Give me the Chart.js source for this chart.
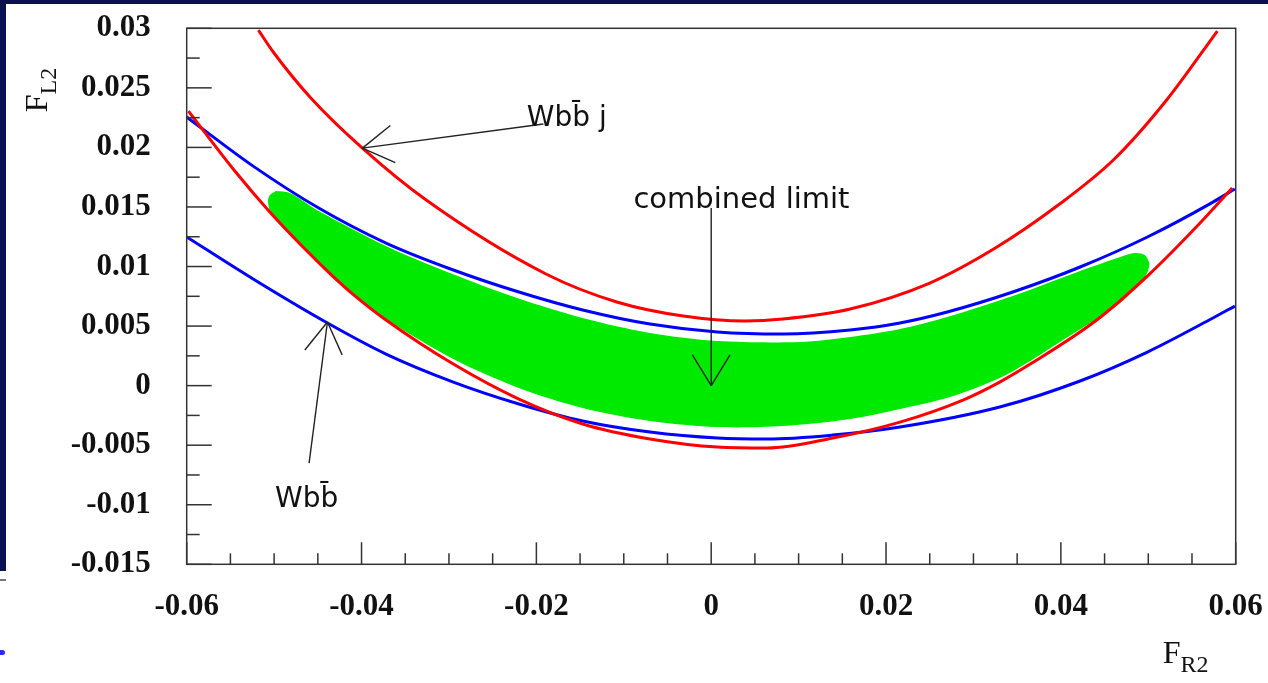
<!DOCTYPE html>
<html>
<head>
<meta charset="utf-8">
<title>F_L2 vs F_R2 limits</title>
<script src="https://cdn.jsdelivr.net/npm/chart.js@4.4.1/dist/chart.umd.min.js"></script>
<style>
  html, body { margin: 0; padding: 0; background: #fff; }
  #wrap { position: relative; width: 1268px; height: 683px; overflow: hidden; background: #fff; }
  #wrap canvas { position: absolute; left: 0; top: 0; }
  .bar { position: absolute; background: #0b1050; }
  #topBar { left: 0; top: 0; width: 1268px; height: 4px; }
  #leftBar { left: 0; top: 0; width: 6px; height: 571px; }
  #leftTick { position: absolute; left: 0; top: 579px; width: 6px; height: 2px; background: #777; }
  #leftBlob { position: absolute; left: 0; top: 650px; width: 5px; height: 5px; background: #2a2aff; border-radius: 0 3px 3px 0; }
</style>
</head>
<body>
<div id="wrap">
  <canvas id="chart" width="1268" height="683"></canvas>
  <div class="bar" id="topBar"></div>
  <div class="bar" id="leftBar"></div>
  <div id="leftTick"></div>
  <div id="leftBlob"></div>
</div>
<script>
// Axis ticks
const xTickValues = [-0.06, -0.04, -0.02, 0, 0.02, 0.04, 0.06];
const xTickLabels = ["-0.06", "-0.04", "-0.02", "0", "0.02", "0.04", "0.06"];
const yTickValues = [-0.015, -0.01, -0.005, 0, 0.005, 0.01, 0.015, 0.02, 0.025, 0.03];
const yTickLabels = ["-0.015", "-0.01", "-0.005", "0", "0.005", "0.01", "0.015", "0.02", "0.025", "0.03"];
const xMinorTicks = [-0.055, -0.05, -0.045, -0.035, -0.03, -0.025, -0.015, -0.01, -0.005,
                     0.005, 0.01, 0.015, 0.025, 0.03, 0.035, 0.045, 0.05, 0.055];
const yMinorTicks = [-0.0125, -0.0075, -0.0025, 0.0025, 0.0075, 0.0125, 0.0175, 0.0225, 0.0275];

// Wbb̄j limit, upper branch (red)
const redOuterX = [-0.0518, -0.0501, -0.0458, -0.0399, -0.0326, -0.0189, -0.0108, -0.0032, 0.0039,
                   0.0082, 0.0159, 0.0250, 0.0325, 0.0397, 0.0460, 0.0521, 0.0579];
const redOuterY = [0.02985, 0.02801, 0.02415, 0.01994, 0.01558, 0.00937, 0.00702, 0.00584, 0.00542,
                   0.00559, 0.00643, 0.00861, 0.01155, 0.01516, 0.01894, 0.02398, 0.02977];

// Wbb̄j limit, lower branch (red)
const redInnerX = [-0.0598, -0.0544, -0.0506, -0.0467, -0.0433, -0.0410, -0.0372, -0.0295, -0.0220,
                   -0.0147, -0.0070, 0.0007, 0.0064, 0.0139, 0.0216, 0.0288, 0.0330, 0.0365,
                   0.0441, 0.0499, 0.0556, 0.0596];
const redInnerY = [0.02305, 0.01793, 0.01466, 0.01164, 0.00920, 0.00769, 0.00551, 0.00181, -0.00113,
                   -0.00322, -0.00448, -0.00516, -0.00524, -0.00440, -0.00306, -0.00121, 0.00030, 0.00181,
                   0.00551, 0.00920, 0.01340, 0.01659];

// Wbb̄ limit, upper branch (blue)
const blueUpperX = [-0.0600, -0.0524, -0.0449, -0.0372, -0.0295, -0.0220, -0.0147, -0.0070, 0.0007,
                    0.0082, 0.0159, 0.0216, 0.0270, 0.0345, 0.0422, 0.0499, 0.0574, 0.0599];
const blueUpperY = [0.02255, 0.01843, 0.01491, 0.01197, 0.00971, 0.00786, 0.00635, 0.00517, 0.00450,
                    0.00433, 0.00467, 0.00526, 0.00618, 0.00786, 0.00996, 0.01248, 0.01541, 0.01651];

// Wbb̄ limit, lower branch (blue)
const blueLowerX = [-0.0600, -0.0524, -0.0441, -0.0372, -0.0295, -0.0220, -0.0147, -0.0070, 0.0007,
                    0.0064, 0.0139, 0.0216, 0.0330, 0.0422, 0.0499, 0.0574, 0.0599];
const blueLowerY = [0.01248, 0.00895, 0.00534, 0.00265, 0.00030, -0.00154, -0.00297, -0.00390, -0.00440,
                    -0.00448, -0.00415, -0.00348, -0.00180, 0.00039, 0.00282, 0.00568, 0.00668];

// combined allowed region (green), outline traced clockwise from the left tip
const combinedX = [-0.0498, -0.0482, -0.0449, -0.0372, -0.0299, -0.0222, -0.0147, -0.0070, 0.0007,
                   0.0102, 0.0159, 0.0216, 0.0270, 0.0345, 0.0422, 0.0468, 0.0485, 0.0496,
                   0.0501, 0.0500, 0.0496, 0.0468, 0.0441, 0.0399, 0.0365, 0.0330, 0.0273,
                   0.0216, 0.0159, 0.0082, 0.0007, -0.0070, -0.0147, -0.0220, -0.0295, -0.0372,
                   -0.0433, -0.0475, -0.0504, -0.0507, -0.0505, -0.0498];
const combinedY = [0.01634, 0.01617, 0.01466, 0.01172, 0.00945, 0.00735, 0.00567, 0.00441, 0.00374,
                   0.00366, 0.00408, 0.00475, 0.00576, 0.00752, 0.00962, 0.01080, 0.01113, 0.01096,
                   0.01029, 0.00970, 0.00912, 0.00693, 0.00559, 0.00366, 0.00207, 0.00064, -0.00096,
                   -0.00196, -0.00280, -0.00339, -0.00348, -0.00297, -0.00188, -0.00020, 0.00223, 0.00559,
                   0.00903, 0.01222, 0.01457, 0.01549, 0.01599, 0.01634];

// Annotations: label text, label anchor, arrow tail -> arrow tip (data units)
const noteTexts = ["Wbb\u0304 j", "combined limit", "Wbb\u0304"];
const noteAt = [[-0.0211, 0.0218], [-0.0089, 0.0149], [-0.0499, -0.0102]];
const arrowFrom = [[-0.0192, 0.02196], [0.0, 0.01491], [-0.0460, -0.0065]];
const arrowTo = [[-0.0399, 0.01994], [0.0, 0.0], [-0.0439, 0.00534]];

const pairs = (xs, ys) => xs.map((x, i) => ({ x: x, y: ys[i] }));

const curve = (label, xs, ys, color) => ({
    label,
    data: pairs(xs, ys),
    showLine: true,
    borderColor: color,
    borderWidth: 3,
    pointRadius: 0,
    cubicInterpolationMode: "monotone",
    fill: false,
    order: 1,
});

// keep the plot frame where the reference has it
const noScalePadding = s => {
    s.paddingTop = 0;
    s.paddingBottom = 0;
    s.paddingLeft = 0;
    s.paddingRight = 0;
};

// frame, inward ticks, axis titles and arrows
const decorPlugin = {
    id: "decor",
    afterDatasetsDraw(chart) {
        const { ctx, chartArea: a, scales } = chart;
        const x = scales.x, y = scales.y;
        const seg = (x1, y1, x2, y2) => {
            ctx.beginPath();
            ctx.moveTo(x1, y1);
            ctx.lineTo(x2, y2);
            ctx.stroke();
        };
        ctx.save();

        // arrows
        ctx.strokeStyle = "#222";
        ctx.lineWidth = 1.4;
        arrowFrom.forEach((from, i) => {
            const x1 = x.getPixelForValue(from[0]), y1 = y.getPixelForValue(from[1]);
            const x2 = x.getPixelForValue(arrowTo[i][0]), y2 = y.getPixelForValue(arrowTo[i][1]);
            seg(x1, y1, x2, y2);
            const ang = Math.atan2(y1 - y2, x1 - x2);
            [-0.55, 0.55].forEach(d => {
                seg(x2, y2, x2 + 36 * Math.cos(ang + d), y2 + 36 * Math.sin(ang + d));
            });
        });

        // annotation text
        ctx.fillStyle = "#111";
        ctx.textAlign = "left";
        ctx.textBaseline = "alphabetic";
        noteTexts.forEach((t, i) => {
            ctx.font = (i === 1 ? "29px" : "28px") + ' "DejaVu Sans"';
            ctx.fillText(t, x.getPixelForValue(noteAt[i][0]), y.getPixelForValue(noteAt[i][1]));
        });

        // frame
        ctx.strokeStyle = "#333";
        ctx.lineWidth = 1.5;
        ctx.strokeRect(a.left, a.top, a.right - a.left, a.bottom - a.top);

        // inward ticks
        yTickValues.forEach(v => { const p = y.getPixelForValue(v); seg(a.left, p, a.left + 25, p); });
        yMinorTicks.forEach(v => { const p = y.getPixelForValue(v); seg(a.left, p, a.left + 13, p); });
        xTickValues.forEach(v => { const p = x.getPixelForValue(v); seg(p, a.bottom, p, a.bottom - 22); });
        xMinorTicks.forEach(v => { const p = x.getPixelForValue(v); seg(p, a.bottom, p, a.bottom - 11); });

        // axis titles
        ctx.fillStyle = "#111";
        ctx.textAlign = "left";
        ctx.font = '32px "Liberation Serif"';
        ctx.fillText("F", a.right - 73, a.bottom + 99);
        const fw = ctx.measureText("F").width;
        ctx.font = '24px "Liberation Serif"';
        ctx.fillText("R2", a.right - 73 + fw, a.bottom + 108);

        ctx.translate(a.left - 140, a.top + 84);
        ctx.rotate(-Math.PI / 2);
        ctx.font = '32px "Liberation Serif"';
        ctx.fillText("F", 0, 0);
        ctx.font = '24px "Liberation Serif"';
        ctx.fillText("L2", fw, 9);
        ctx.restore();
    },
};

const tickFont = { family: "Liberation Serif", size: 31, weight: "bold" };

new Chart(document.getElementById("chart"), {
    type: "scatter",
    data: {
        datasets: [
            curve("Wbb\u0304j upper", redOuterX, redOuterY, "#ff0000"),
            curve("Wbb\u0304j lower", redInnerX, redInnerY, "#ff0000"),
            curve("Wbb\u0304 upper", blueUpperX, blueUpperY, "#0000ff"),
            curve("Wbb\u0304 lower", blueLowerX, blueLowerY, "#0000ff"),
            {
                label: "combined limit",
                data: pairs(combinedX, combinedY),
                showLine: true,
                borderWidth: 0,
                borderColor: "rgba(0,0,0,0)",
                backgroundColor: "#00ea00",
                pointRadius: 0,
                tension: 0.3,
                fill: "shape",
                order: 10,
            },
        ],
    },
    options: {
        responsive: false,
        animation: false,
        layout: { padding: { left: 0, top: 28.3, right: 32.3, bottom: 0 } },
        plugins: { legend: { display: false }, tooltip: { enabled: false } },
        scales: {
            x: {
                type: "linear",
                min: -0.06,
                max: 0.06,
                afterBuildTicks: s => { s.ticks = xTickValues.map(v => ({ value: v })); },
                afterFit: s => { s.height = 118.7; noScalePadding(s); },
                grid: { display: false, drawTicks: false },
                border: { display: false },
                ticks: {
                    callback: (v, i) => xTickLabels[i],
                    font: tickFont,
                    color: "#111",
                    padding: 24,
                    maxRotation: 0,
                },
            },
            y: {
                type: "linear",
                min: -0.015,
                max: 0.03,
                afterBuildTicks: s => { s.ticks = yTickValues.map(v => ({ value: v })); },
                afterFit: s => { s.width = 186.7; noScalePadding(s); },
                grid: { display: false, drawTicks: false },
                border: { display: false },
                ticks: {
                    callback: (v, i) => yTickLabels[i],
                    font: tickFont,
                    color: "#111",
                    padding: 36,
                },
            },
        },
    },
    plugins: [decorPlugin],
});
</script>
</body>
</html>
